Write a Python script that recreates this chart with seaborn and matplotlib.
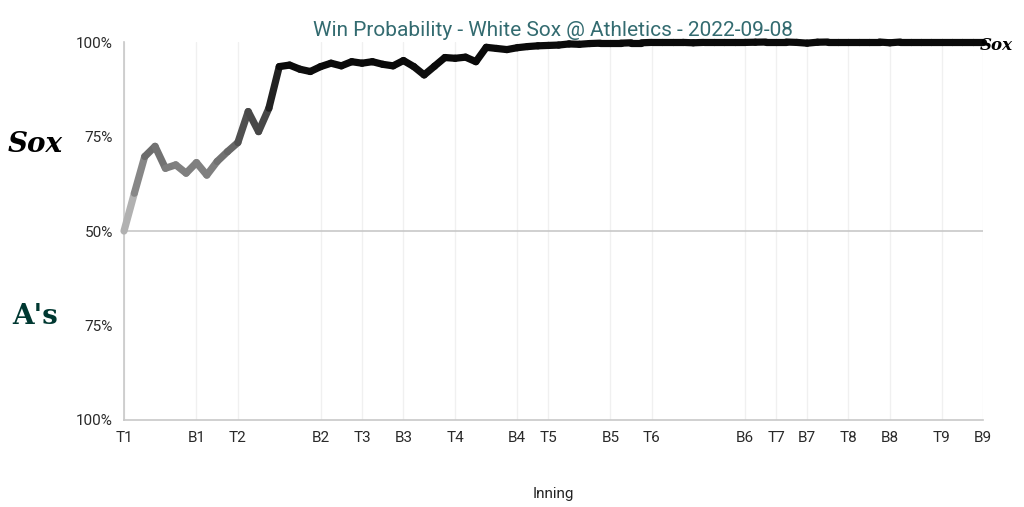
import matplotlib
matplotlib.use("Agg")
import matplotlib.pyplot as plt
import seaborn as sns
import pandas as pd

# inning markers (plate-appearance index -> label)
inning_pos = [0, 7, 11, 19, 23, 27, 32, 38, 41, 47, 51, 60, 63, 66, 70, 74, 79, 83]
inning_labels = ["T1", "B1", "T2", "B2", "T3", "B3", "T4", "B4", "T5", "B5",
                 "T6", "B6", "T7", "B7", "T8", "B8", "T9", "B9"]

# White Sox win probability (%) after each plate appearance
wp_sox = [50.0, 60.0, 69.7, 72.4, 66.6, 67.5, 65.3, 68.1, 64.8, 68.4,
          71.0, 73.4, 81.6, 76.3, 82.5, 93.5, 93.9, 92.8, 92.2, 93.5,
          94.4, 93.7, 94.8, 94.4, 94.8, 94.1, 93.7, 95.1, 93.5, 91.3,
          93.6, 95.9, 95.7, 96.0, 94.8, 98.6, 98.3, 98.0, 98.5, 98.8,
          99.0, 99.1, 99.2, 99.5, 99.4, 99.6, 99.7, 99.7, 99.7, 99.8,
          99.8, 99.9, 99.9, 99.9, 99.9, 99.8, 99.9, 99.9, 99.9, 99.9,
          99.9, 99.95, 100.0, 100.0, 100.0, 99.9, 99.7, 99.95, 100.0, 100.0,
          100.0, 100.0, 100.0, 100.0, 99.8, 100.0, 100.0, 100.0, 100.0, 100.0,
          100.0, 100.0, 100.0, 100.0]

pa = list(range(len(wp_sox)))

sns.set_style("white")
plt.rcParams["font.family"] = ["Roboto", "DejaVu Sans"]


def seg_color(p):
    # lighter near 50%, darker as the game swings to one side
    t = abs(p - 50.0) / 50.0
    g = max(0.04, 0.78 - 0.85 * t)
    return (g, g, g)


# one two-point segment per plate appearance so every piece gets its own shade
rows = []
palette = {}
for i in range(len(wp_sox) - 1):
    name = f"s{i:03d}"
    rows.append({"pa": pa[i], "wp": wp_sox[i], "seg": name})
    rows.append({"pa": pa[i + 1], "wp": wp_sox[i + 1], "seg": name})
    palette[name] = seg_color((wp_sox[i] + wp_sox[i + 1]) / 2)
df = pd.DataFrame(rows)

fig = plt.figure(figsize=(10.24, 5.07), dpi=100)
ax = fig.add_axes([0.1211, 0.1716, 0.8389, 0.7455])

for x in inning_pos:
    ax.axvline(x, color="#f0f0f0", linewidth=1, zorder=0)
ax.axhline(50, color="#c8c8c8", linewidth=1.2, zorder=1)

sns.lineplot(data=df, x="pa", y="wp", hue="seg", palette=palette, legend=False,
             estimator=None, sort=False, linewidth=5.2, ax=ax,
             solid_capstyle="round", solid_joinstyle="round", clip_on=False, zorder=3)

ax.set_xlim(0, inning_pos[-1])
ax.set_ylim(0, 100)
ax.set_xticks(inning_pos)
ax.set_xticklabels(inning_labels)
ax.set_yticks([0, 25, 50, 75, 100])
ax.set_yticklabels(["100%", "75%", "50%", "75%", "100%"])
ax.tick_params(axis="both", length=5, width=1, color="#c8c8c8",
               labelsize=11, labelcolor="#2a2a2a", pad=3)

for side in ["top", "right"]:
    ax.spines[side].set_visible(False)
for side in ["left", "bottom"]:
    ax.spines[side].set_color("#c8c8c8")
    ax.spines[side].set_linewidth(1.2)

ax.set_xlabel("Inning", fontsize=11, color="#222222", labelpad=30)
ax.set_ylabel("")
fig.text(0.54, 0.94, "Win Probability - White Sox @ Athletics - 2022-09-08",
         ha="center", va="center", fontsize=15, color="#336b70")

# team marks in place of the logos
fig.text(0.034, 0.715, "Sox", ha="center", va="center", fontsize=20,
         family="DejaVu Serif", fontweight="bold", fontstyle="italic", color="black")
fig.text(0.034, 0.375, "A's", ha="center", va="center", fontsize=20,
         family="DejaVu Serif", fontweight="bold", color="#003831")
fig.text(0.973, 0.91, "Sox", ha="center", va="center", fontsize=12,
         family="DejaVu Serif", fontweight="bold", fontstyle="italic", color="black")

fig.savefig("out.png", dpi=100)
